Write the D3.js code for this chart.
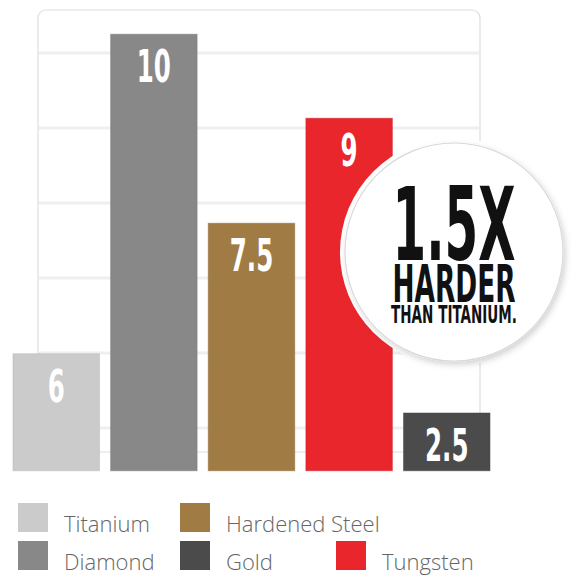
<!DOCTYPE html>
<html>
<head>
<meta charset="utf-8">
<script src="https://cdn.jsdelivr.net/npm/d3@7"></script>
<style>
  html, body { margin: 0; padding: 0; background: #fff; }
  svg { display: block; }
</style>
</head>
<body>
<div id="chart"></div>
<script>
// data
const materials = ["Titanium", "Diamond", "Hardened Steel", "Tungsten", "Gold"];
const hardness = [6, 10, 7.5, 9, 2.5];            // printed on the bars
const barLevels = [0.99, 5.25, 2.73, 4.13, 0.2];  // bar top, in grid steps (drawn heights are not to scale)
const barBase = -0.57;                            // bars hang a little below the last grid line
const colors = ["#cbcbcb", "#888888", "#a07b44", "#e8262c", "#4b4b4b"];
const gridTicks = [0, 1, 2, 3, 4, 5];
const legendRows = [["Titanium", "Hardened Steel"], ["Diamond", "Gold", "Tungsten"]];
const badgeLines = ["1.5X", "HARDER", "THAN TITANIUM."];

const W = 575, H = 575;
const condensed = "'Liberation Sans Narrow', 'DejaVu Sans Condensed', sans-serif";

const svg = d3.select("#chart").append("svg")
  .attr("width", W)
  .attr("height", H);

const defs = svg.append("defs");
const shadow = defs.append("filter").attr("id", "shadow")
  .attr("x", "-20%").attr("y", "-20%").attr("width", "140%").attr("height", "140%");
shadow.append("feDropShadow")
  .attr("dx", 2).attr("dy", 3).attr("stdDeviation", 3)
  .attr("flood-color", "#000").attr("flood-opacity", 0.18);

// scales
const x = d3.scaleBand()
  .domain(materials)
  .range([13, 490])
  .paddingInner(0.114);

const y = d3.scaleLinear()
  .domain([0, 5])
  .range([428, 53]);

const color = d3.scaleOrdinal().domain(materials).range(colors);

// squeeze a text element horizontally so it is `w` pixels wide
function squeeze(sel, cx, base, w) {
  sel.each(function(d, i) {
    const t = d3.select(this);
    const nat = this.getComputedTextLength() || 1;
    const s = typeof w === "function" ? w(d, i) / nat : w;
    t.attr("transform", `translate(${cx(d, i)},${base(d, i)}) scale(${s},1)`);
  });
}

// panel behind the bars
svg.append("rect")
  .attr("x", 38).attr("y", 10)
  .attr("width", 442).attr("height", 442)
  .attr("rx", 8)
  .attr("fill", "#fff")
  .attr("stroke", "#dedede")
  .attr("stroke-width", 1.2);

svg.append("g")
  .selectAll("line")
  .data(gridTicks)
  .join("line")
  .attr("x1", 39).attr("x2", 479)
  .attr("y1", d => y(d)).attr("y2", d => y(d))
  .attr("stroke", "#efefef")
  .attr("stroke-width", 3);

// bars
const bars = materials.map((m, i) => ({ name: m, value: hardness[i], level: barLevels[i] }));

svg.append("g")
  .selectAll("rect")
  .data(bars)
  .join("rect")
  .attr("x", d => x(d.name))
  .attr("y", d => y(d.level))
  .attr("width", x.bandwidth())
  .attr("height", d => y(barBase) - y(d.level))
  .attr("fill", d => color(d.name))
  .attr("stroke", d => d3.color(color(d.name)).darker(0.3))
  .attr("stroke-opacity", 0.5)
  .attr("stroke-width", 1);

svg.append("g")
  .selectAll("text")
  .data(bars)
  .join("text")
  .attr("text-anchor", "middle")
  .attr("font-family", condensed)
  .attr("font-weight", "bold")
  .attr("font-size", 44)
  .attr("fill", "#fff")
  .text(d => d.value)
  .call(squeeze, d => x(d.name) + x.bandwidth() / 2, d => y(d.level) + 48, 0.62);

// badge circle over the tungsten bar
const badge = { cx: 454, cy: 252, r: 109 };
svg.append("circle")
  .attr("cx", badge.cx).attr("cy", badge.cy).attr("r", badge.r + 5)
  .attr("fill", "#fff");
svg.append("circle")
  .attr("cx", badge.cx).attr("cy", badge.cy).attr("r", badge.r)
  .attr("fill", "#fff")
  .attr("stroke", "#d9d9d9")
  .attr("stroke-width", 1.2)
  .attr("filter", "url(#shadow)");

const badgeFont = [102, 52, 25];
const badgeBase = [260, 302, 323];
const badgeWidth = [123, 123, 126];
svg.append("g")
  .selectAll("text")
  .data(badgeLines)
  .join("text")
  .attr("text-anchor", "middle")
  .attr("font-family", condensed)
  .attr("font-weight", "bold")
  .attr("font-size", (d, i) => badgeFont[i])
  .attr("fill", "#111")
  .text(d => d)
  .call(squeeze, () => badge.cx, (d, i) => badgeBase[i], (d, i) => badgeWidth[i]);

// legend
const legendX = [18, 180, 336];
const legendY = [503, 541];
const legend = svg.append("g");
legendRows.forEach((row, r) => {
  const item = legend.append("g")
    .selectAll("g")
    .data(row)
    .join("g")
    .attr("transform", (d, c) => `translate(${legendX[c]},${legendY[r]})`);
  item.append("rect")
    .attr("width", 30).attr("height", 29)
    .attr("fill", d => color(d));
  item.append("text")
    .attr("x", 46).attr("y", 29)
    .attr("font-family", "'Open Sans', 'Noto Sans', sans-serif")
    .attr("font-weight", 300)
    .attr("font-size", 22)
    .attr("fill", "#666")
    .text(d => d);
});
</script>
</body>
</html>
